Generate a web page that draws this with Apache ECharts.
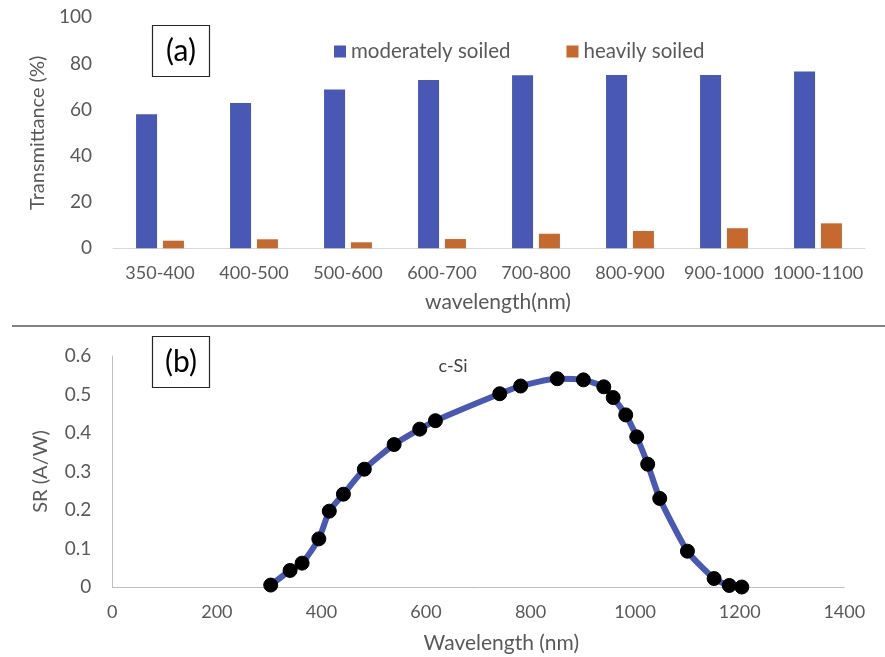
<!DOCTYPE html>
<html>
<head>
<meta charset="utf-8">
<script src="https://cdn.jsdelivr.net/npm/echarts@6/dist/echarts.min.js"></script>
<style>
html,body{margin:0;padding:0;background:#fff;}
#c{width:885px;height:657px;}
</style>
</head>
<body>
<div id="c"></div>
<script>
// Panel (a) data
const bandCategories = ['350-400','400-500','500-600','600-700','700-800','800-900','900-1000','1000-1100'];
const moderatelySoiled = [58.0, 62.9, 68.7, 72.9, 74.9, 75.0, 75.0, 76.5];
const heavilySoiled = [3.3, 3.9, 2.6, 4.0, 6.3, 7.5, 8.7, 10.8];

// Panel (b) data: c-Si spectral response
const wavelengthNm = [303, 340, 363, 395, 415, 442, 482, 539, 588, 618, 741, 781, 851, 901, 940, 958, 982, 1003, 1024, 1047, 1100, 1151, 1180, 1204];
const srAW = [0.005, 0.043, 0.062, 0.125, 0.197, 0.241, 0.306, 0.370, 0.410, 0.432, 0.502, 0.522, 0.541, 0.538, 0.520, 0.492, 0.447, 0.390, 0.319, 0.230, 0.093, 0.022, 0.004, 0.000];

const FONT = 'Lato';
const TXT = '#595959';
const BLUE = '#4858B4';
const ORANGE = '#C5692F';

const chart = echarts.init(document.getElementById('c'));
chart.setOption({
  animation: false,
  backgroundColor: '#fff',
  textStyle: { fontFamily: FONT },
  legend: {
    left: 329, top: 36,
    itemWidth: 12, itemHeight: 12, itemGap: 56,
    icon: 'rect',
    textStyle: { fontFamily: FONT, fontSize: 20.5, color: TXT },
    data: ['moderately soiled', 'heavily soiled']
  },
  grid: [
    { left: 113, top: 17.3, width: 752, height: 231 },
    { left: 112.3, top: 356, width: 732, height: 231 }
  ],
  xAxis: [
    {
      type: 'category', gridIndex: 0, data: bandCategories,
      axisLine: { lineStyle: { color: '#D9D9D9', width: 1 } },
      axisTick: { show: false },
      axisLabel: { color: TXT, fontSize: 18, margin: 16, fontFamily: FONT, interval: 0 },
      name: 'wavelength(nm)', nameLocation: 'middle', nameGap: 43,
      nameTextStyle: { color: TXT, fontSize: 21, fontFamily: FONT, padding: [0, 0, 0, 18] }
    },
    {
      type: 'value', gridIndex: 1, min: 0, max: 1400, interval: 200,
      splitLine: { show: false },
      axisLine: { show: true, lineStyle: { color: '#BFBFBF', width: 1 } },
      axisTick: { show: false },
      axisLabel: { color: TXT, fontSize: 18, margin: 16, fontFamily: FONT,
        formatter: v => String(v) },
      name: 'Wavelength (nm)', nameLocation: 'middle', nameGap: 46,
      nameTextStyle: { color: TXT, fontSize: 21, fontFamily: FONT, padding: [0, 0, 0, 46] }
    }
  ],
  yAxis: [
    {
      type: 'value', gridIndex: 0, min: 0, max: 100, interval: 20,
      splitLine: { show: false },
      axisLine: { show: false }, axisTick: { show: false },
      axisLabel: { color: TXT, fontSize: 19, margin: 21, fontFamily: FONT },
      name: 'Transmittance (%)', nameLocation: 'middle', nameGap: 60, nameRotate: 90,
      nameTextStyle: { color: TXT, fontSize: 20, fontFamily: FONT }
    },
    {
      type: 'value', gridIndex: 1, min: 0, max: 0.6, interval: 0.1,
      splitLine: { show: false },
      axisLine: { show: true, lineStyle: { color: '#BFBFBF', width: 1 } },
      axisTick: { show: false },
      axisLabel: { color: TXT, fontSize: 19, margin: 21, fontFamily: FONT,
        formatter: v => (Math.round(v * 10) / 10).toString() },
      name: 'SR (A/W)', nameLocation: 'middle', nameGap: 62, nameRotate: 90,
      nameTextStyle: { color: TXT, fontSize: 20, fontFamily: FONT }
    }
  ],
  series: [
    {
      name: 'moderately soiled', type: 'bar', xAxisIndex: 0, yAxisIndex: 0,
      data: moderatelySoiled, barWidth: 21, barGap: '28%',
      itemStyle: { color: BLUE }
    },
    {
      name: 'heavily soiled', type: 'bar', xAxisIndex: 0, yAxisIndex: 0,
      data: heavilySoiled, barWidth: 21, barGap: '28%',
      itemStyle: { color: ORANGE }
    },
    {
      name: 'c-Si', type: 'line', xAxisIndex: 1, yAxisIndex: 1,
      data: wavelengthNm.map((w, i) => [w, srAW[i]]),
      smooth: 0.2,
      lineStyle: { color: BLUE, width: 6 },
      symbol: 'circle', symbolSize: 14,
      itemStyle: { color: '#000', borderColor: '#000' }
    }
  ],
  graphic: [
    { type: 'line', shape: { x1: 12, y1: 326, x2: 885, y2: 326 },
      style: { stroke: '#595959', lineWidth: 1.5 } },
    { type: 'rect', shape: { x: 152.5, y: 25.5, width: 57, height: 51 },
      style: { fill: '#fff', stroke: '#262626', lineWidth: 1.2 } },
    { type: 'text', style: { text: '(a)', x: 181, y: 51, fontFamily: FONT, fontSize: 30, fill: '#000', align: 'center', verticalAlign: 'middle' } },
    { type: 'rect', shape: { x: 152.5, y: 336.5, width: 57, height: 51 },
      style: { fill: '#fff', stroke: '#262626', lineWidth: 1.2 } },
    { type: 'text', style: { text: '(b)', x: 181, y: 362, fontFamily: FONT, fontSize: 30, fill: '#000', align: 'center', verticalAlign: 'middle' } },
    { type: 'text', style: { text: 'c-Si', x: 453, y: 366, fontFamily: FONT, fontSize: 18, fill: '#404040', align: 'center', verticalAlign: 'middle' } }
  ]
});
</script>
</body>
</html>
